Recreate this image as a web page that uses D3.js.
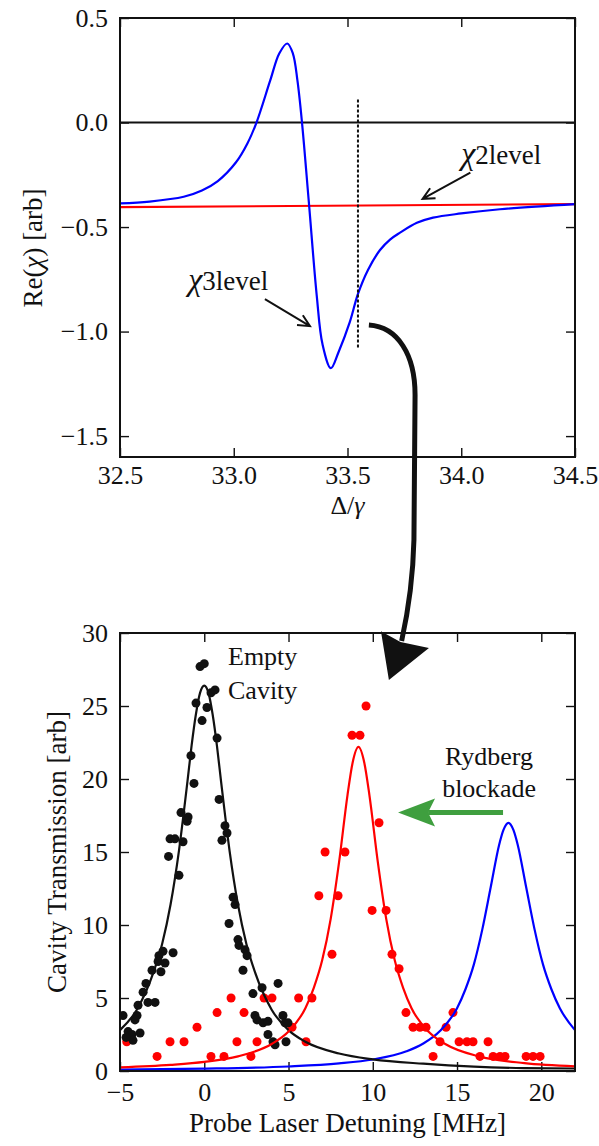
<!DOCTYPE html>
<html lang="en">
<head>
<meta charset="UTF-8">
<title>Rydberg blockade</title>
<script src="https://d3js.org/d3.v7.min.js"></script>
<style>
  body { margin: 0; background: #fff; }
  svg text { font-family: "Liberation Serif", "DejaVu Serif", serif; font-size: 26px; fill: #111; }
  svg text.lab { font-size: 27px; }
</style>
</head>
<body>
<svg width="599" height="1146"></svg>
<script>
// ---- top panel: Re(chi) vs Delta/gamma ----
var chi3X = [32.5, 32.63, 32.78, 32.86, 32.93, 33.01, 33.06, 33.10, 33.16, 33.20, 33.235, 33.26, 33.28, 33.30, 33.33, 33.365, 33.39, 33.427, 33.46, 33.51, 33.546, 33.59, 33.643, 33.687, 33.731, 33.805, 33.876, 34.0, 34.17, 34.5];
var chi3Y = [-0.387, -0.378, -0.355, -0.325, -0.28, -0.19, -0.10, 0.0, 0.20, 0.33, 0.378, 0.33, 0.20, 0.0, -0.38, -0.83, -1.06, -1.175, -1.10, -0.955, -0.82, -0.705, -0.61, -0.56, -0.527, -0.48, -0.455, -0.435, -0.415, -0.39];
var chi2X = [32.5, 34.5];
var chi2Y = [-0.405, -0.39];
var markerX = 33.546;
var markerY = [0.11, -1.08];
var topXTicks = [32.5, 33.0, 33.5, 34.0, 34.5];
var topYTicks = [0.5, 0.0, -0.5, -1.0, -1.5];

// ---- bottom panel: cavity transmission ----
var emptyPts = [[-0.25,27.7],[0.0,27.9],[-0.49,25.2],[0.16,24.9],[0.40,25.9],[0.64,26.1],[-0.13,24.0],[0.76,22.8],
  [-0.79,21.6],[-0.61,19.7],[0.88,18.6],[-1.38,17.7],[-0.96,17.4],[-1.02,17.1],[1.23,16.8],[1.35,16.3],[1.05,15.8],
  [-2.03,15.9],[-1.74,15.9],[-1.26,15.7],[-2.12,14.7],[-1.50,13.4],[1.71,11.9],[1.83,11.4],[1.47,10.1],[2.0,9.0],
  [2.06,8.6],[2.42,8.3],[2.54,7.9],[2.30,6.9],[-1.85,8.1],[-2.45,8.2],[-2.69,7.9],[-2.74,7.5],[-2.33,7.4],[-3.10,6.9],
  [-2.57,6.8],[-3.46,6.0],[-3.63,5.4],[-3.34,4.7],[-2.92,4.7],[-3.93,4.5],[-3.99,3.8],[-4.11,3.5],[-4.82,3.8],
  [-4.52,2.7],[-4.29,2.5],[-4.23,2.1],[-4.64,2.3],[-3.81,2.6],[2.89,5.3],[3.43,5.7],[4.38,6.0],[3.01,3.8],[3.13,3.5],
  [3.49,3.3],[3.78,3.4],[3.78,2.5],[4.08,2.0],[4.20,1.8],[4.67,3.8],[4.79,3.3],[4.97,3.3],[4.85,2.0]];
var blockPts = [[-4.6,2],[-2.80,1],[-2.03,2],[-1.20,2],[-0.43,3],[0.76,4],[0.40,1],[1.17,1],[1.59,5],[2.36,4],[1.94,2],
  [2.77,1],[3.13,2],[3.55,5],[4.02,5],[5.21,3],[5.60,5],[6.04,2],[6.39,5],[6.80,12],[7.17,15],[8.35,15],[7.94,12],
  [7.58,8],[8.77,23],[9.24,23],[9.6,25],[10.37,17],[9.96,11],[10.79,11],[11.14,8],[11.56,7],[11.97,4],[12.39,3],
  [12.80,3],[13.16,3],[13.58,1],[13.99,2],[14.35,3],[14.76,4],[15.12,2],[15.59,2],[15.95,2],[16.84,2],[16.36,1],
  [17.14,1],[17.55,1],[17.85,1],[19.10,1],[19.51,1],[19.93,1]];
var fitEmptyX = [-5, -4, -3, -2.5, -2, -1.5, -1, -0.75, -0.5, -0.25, 0, 0.25, 0.5, 0.75, 1, 1.5, 2, 2.5, 3, 4, 5, 6, 8, 10, 13, 16, 19, 22];
var fitEmptyY = [2.8, 4.2, 6.8, 8.7, 11.4, 15.1, 19.8, 22.3, 24.4, 25.9, 26.4, 25.9, 24.4, 22.3, 19.8, 15.1, 11.4, 8.7, 6.8, 4.2, 2.8, 2.0, 1.2, 0.8, 0.5, 0.3, 0.2, 0.17];
var fitBlockX = [-5, -2, 0, 2, 4, 5, 6, 6.5, 7, 7.5, 8, 8.5, 8.8, 9.15, 9.5, 9.8, 10.3, 10.8, 11.3, 11.8, 12.3, 13.3, 14.3, 16.3, 19, 22];
var fitBlockY = [0.25, 0.42, 0.62, 1.0, 1.85, 2.7, 4.3, 5.7, 7.6, 10.4, 14.3, 18.9, 21.1, 22.2, 21.1, 18.9, 14.3, 10.4, 7.6, 5.7, 4.3, 2.7, 1.85, 1.0, 0.54, 0.32];
var fitAtomX = [-5, 0, 5, 8, 10, 12, 13, 14, 15, 15.5, 16, 16.5, 17, 17.5, 17.75, 18.05, 18.35, 18.6, 19.1, 19.6, 20.1, 20.6, 21.1, 22];
var fitAtomY = [0.10, 0.16, 0.31, 0.52, 0.79, 1.35, 1.88, 2.75, 4.3, 5.6, 7.3, 9.7, 12.6, 15.5, 16.5, 17.0, 16.5, 15.5, 12.6, 9.7, 7.3, 5.6, 4.3, 2.8];
var botXTicks = [-5, 0, 5, 10, 15, 20];
var botYTicks = [0, 5, 10, 15, 20, 25, 30];

var svg = d3.select("svg");
var xT = d3.scaleLinear().domain([32.5, 34.5]).range([120, 575]);
var yT = d3.scaleLinear().domain([-1.6, 0.5]).range([457, 18]);
var xB = d3.scaleLinear().domain([-5, 22]).range([120, 575]);
var yB = d3.scaleLinear().domain([0, 30]).range([1071, 633]);

function axes(x, y, xt, yt, fx, fy, padX, id) {
  var x0 = x.range()[0], x1 = x.range()[1], y0 = y.range()[0], y1 = y.range()[1];
  svg.append("clipPath").attr("id", id).append("rect")
    .attr("x", x0).attr("y", y1).attr("width", x1 - x0).attr("height", y0 - y1);
  [[d3.axisBottom(x).tickValues(xt).tickFormat(fx).tickPadding(padX), 0, y0],
   [d3.axisTop(x).tickValues(xt).tickFormat(""), 0, y1],
   [d3.axisLeft(y).tickValues(yt).tickFormat(fy).tickPadding(12), x0, 0],
   [d3.axisRight(y).tickValues(yt).tickFormat(""), x1, 0]].forEach(function(a) {
    var g = svg.append("g").attr("transform", "translate(" + a[1] + "," + a[2] + ")")
      .call(a[0].tickSizeInner(-9).tickSizeOuter(0));
    g.attr("font-family", null).attr("font-size", null);
    g.select(".domain").remove();
    g.selectAll(".tick line").attr("stroke", "#111").attr("stroke-width", 1.4);
  });
}

function box(x, y) {
  svg.append("rect").attr("x", x.range()[0]).attr("y", y.range()[1])
    .attr("width", x.range()[1] - x.range()[0]).attr("height", y.range()[0] - y.range()[1])
    .attr("fill", "none").attr("stroke", "#111").attr("stroke-width", 2);
}

function openArrow(x0, y0, x1, y1) {
  var a = Math.atan2(y1 - y0, x1 - x0), L = 13;
  var d = "M" + x0 + "," + y0 + "L" + x1 + "," + y1 +
    "M" + (x1 - L * Math.cos(a - 0.45)) + "," + (y1 - L * Math.sin(a - 0.45)) + "L" + x1 + "," + y1 +
    "L" + (x1 - L * Math.cos(a + 0.45)) + "," + (y1 - L * Math.sin(a + 0.45));
  svg.append("path").attr("d", d).attr("fill", "none").attr("stroke", "#111").attr("stroke-width", 2);
}

// ===== top panel =====
axes(xT, yT, topXTicks, topYTicks, d3.format(".1f"), d3.format(".1f"), 9, "clipT");
var gT = svg.append("g").attr("clip-path", "url(#clipT)");
gT.append("line").attr("x1", xT(32.5)).attr("x2", xT(34.5)).attr("y1", yT(0)).attr("y2", yT(0))
  .attr("stroke", "#111").attr("stroke-width", 1.8);
var lineT = d3.line().x(function(d) { return xT(d[0]); }).y(function(d) { return yT(d[1]); }).curve(d3.curveCatmullRom.alpha(0.5));
gT.append("path").datum(d3.zip(chi2X, chi2Y)).attr("d", lineT).attr("fill", "none").attr("stroke", "#ff0000").attr("stroke-width", 2.2);
gT.append("path").datum(d3.zip(chi3X, chi3Y)).attr("d", lineT).attr("fill", "none").attr("stroke", "#0000ff").attr("stroke-width", 2.2);
gT.append("line").attr("x1", xT(markerX)).attr("x2", xT(markerX)).attr("y1", yT(markerY[0])).attr("y2", yT(markerY[1]))
  .attr("stroke", "#111").attr("stroke-width", 2).attr("stroke-dasharray", "3,2");
box(xT, yT);

// top labels
var chi2Lab = svg.append("text").attr("x", xT(34.0)).attr("y", yT(-0.2)).style("font-size", "27px");
chi2Lab.append("tspan").attr("font-style", "italic").style("font-size", "32px").text("χ");
chi2Lab.append("tspan").text("2level");
openArrow(xT(34.04), yT(-0.24), xT(33.83), yT(-0.365));
var chi3Lab = svg.append("text").attr("x", xT(32.80)).attr("y", yT(-0.80)).style("font-size", "27px");
chi3Lab.append("tspan").attr("font-style", "italic").style("font-size", "32px").text("χ");
chi3Lab.append("tspan").text("3level");
openArrow(xT(33.137), yT(-0.845), xT(33.335), yT(-0.974));

var yLabT = svg.append("text").attr("class", "lab").attr("transform", "translate(42," + yT(-0.6) + ") rotate(-90)").attr("text-anchor", "middle");
yLabT.append("tspan").text("Re(");
yLabT.append("tspan").attr("font-style", "italic").text("χ");
yLabT.append("tspan").text(") [arb]");
var xLabT = svg.append("text").attr("x", xT(33.5)).attr("y", 514).attr("text-anchor", "middle");
xLabT.append("tspan").text("Δ/");
xLabT.append("tspan").attr("font-style", "italic").text("γ");

// connector arrow (top panel coordinates)
var P = function(x, y) { return xT(x) + "," + yT(y); };
svg.append("path")
  .attr("d", "M" + P(33.594, -0.969) + "C" + P(33.722, -0.978) + " " + P(33.797, -1.112) + " " + P(33.797, -1.303) +
    "L" + P(33.792, -1.997) + "C" + P(33.788, -2.188) + " " + P(33.766, -2.341) + " " + P(33.738, -2.48))
  .attr("fill", "none").attr("stroke", "#111").attr("stroke-width", 5);
svg.append("path")
  .attr("d", "M" + P(33.682, -2.667) + "L" + P(33.647, -2.433) + "L" + P(33.733, -2.485) + "L" + P(33.858, -2.514) + "Z")
  .attr("fill", "#111");

// ===== bottom panel =====
axes(xB, yB, botXTicks, botYTicks, d3.format("d"), d3.format("d"), 12, "clipB");
var gB = svg.append("g").attr("clip-path", "url(#clipB)");
gB.selectAll("circle.block").data(blockPts).enter().append("circle").attr("class", "block")
  .attr("cx", function(d) { return xB(d[0]); }).attr("cy", function(d) { return yB(d[1]); })
  .attr("r", 4.5).attr("fill", "#ff0000");
gB.selectAll("circle.empty").data(emptyPts).enter().append("circle").attr("class", "empty")
  .attr("cx", function(d) { return xB(d[0]); }).attr("cy", function(d) { return yB(d[1]); })
  .attr("r", 4.5).attr("fill", "#111");
var lineB = d3.line().x(function(d) { return xB(d[0]); }).y(function(d) { return yB(d[1]); }).curve(d3.curveMonotoneX);
gB.append("path").datum(d3.zip(fitAtomX, fitAtomY)).attr("d", lineB).attr("fill", "none").attr("stroke", "#0000ff").attr("stroke-width", 2.2);
gB.append("path").datum(d3.zip(fitEmptyX, fitEmptyY)).attr("d", lineB).attr("fill", "none").attr("stroke", "#111").attr("stroke-width", 2.2);
gB.append("path").datum(d3.zip(fitBlockX, fitBlockY)).attr("d", lineB).attr("fill", "none").attr("stroke", "#ff0000").attr("stroke-width", 2.2);
box(xB, yB);

svg.append("text").attr("x", xB(1.41)).attr("y", yB(27.8)).text("Empty");
svg.append("text").attr("x", xB(1.41)).attr("y", yB(25.5)).text("Cavity");
svg.append("text").attr("x", xB(16.9)).attr("y", yB(20.96)).attr("text-anchor", "middle").text("Rydberg");
svg.append("text").attr("x", xB(16.9)).attr("y", yB(18.77)).attr("text-anchor", "middle").text("blockade");

// green shift arrow
var gy = yB(17.7), gTip = xB(11.5);
svg.append("line").attr("x1", xB(17.73)).attr("x2", gTip + 30).attr("y1", gy).attr("y2", gy)
  .attr("stroke", "#3f9f3f").attr("stroke-width", 5);
svg.append("path").attr("d", "M" + gTip + "," + gy + "L" + (gTip + 37) + "," + (gy - 14) + "L" + (gTip + 30) + "," + gy +
  "L" + (gTip + 37) + "," + (gy + 14) + "Z").attr("fill", "#3f9f3f");

svg.append("text").attr("class", "lab").attr("transform", "translate(66," + yB(15) + ") rotate(-90)").attr("text-anchor", "middle")
  .text("Cavity Transmission [arb]");
svg.append("text").attr("class", "lab").attr("x", xB(8.5)).attr("y", 1132).attr("text-anchor", "middle").text("Probe Laser Detuning [MHz]");
</script>
</body>
</html>
